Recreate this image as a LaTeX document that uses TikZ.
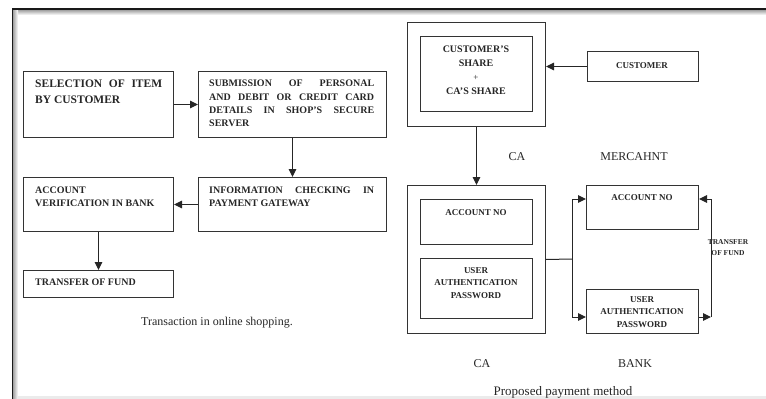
\documentclass[tikz,border=0pt]{standalone}
\usepackage{fontspec}
\setmainfont{Liberation Serif}
\usetikzlibrary{arrows.meta,calc}
\newcommand\jline[2]{\makebox[#1][s]{#2}}
\begin{document}
\begin{tikzpicture}[x=1pt,y=-1pt,
  box/.style={draw=black!80, line width=1pt, inner sep=0pt, anchor=north west},
  txt/.style={inner sep=0pt, align=left, anchor=north west, text=black!85},
  ctxt/.style={inner sep=0pt, align=center, text=black!85},
  arr/.style={draw=black!85, line width=1pt, -{Triangle[length=8pt,width=7.5pt]}},
  ln/.style={draw=black!85, line width=1pt},
  bf10/.style={font=\bfseries\fontsize{10}{13.3}\selectfont},
  bf9/.style={font=\bfseries\fontsize{9}{12.3}\selectfont},
  lab/.style={inner sep=0pt, anchor=base, text=black!85, font=\fontsize{12}{14}\selectfont}]
\useasboundingbox (0,0) rectangle (766,399);
% frame
\shade[top color=black!40, bottom color=white] (12,9.5) rectangle (766,15);
\shade[left color=black!40, right color=white] (12.5,9.5) rectangle (18,399);
\fill[black!8] (18,396) rectangle (766,399);
\draw[line width=1.6pt, black!90] (12.5,399) -- (12.5,9) -- (766,9);

% ---- left diagram ----
\node[box, minimum width=150pt, minimum height=66pt] (b1) at (23,71) {};
\node[box, minimum width=188pt, minimum height=66pt] (b2) at (198,71) {};
\node[box, minimum width=150pt, minimum height=54pt] (b3) at (23,177) {};
\node[box, minimum width=188pt, minimum height=54pt] (b4) at (198,177) {};
\node[box, minimum width=150pt, minimum height=27pt] (b5) at (23,270) {};

\node[txt, font=\bfseries\fontsize{11.5}{15.7}\selectfont] (t1) at (35,80)
  {\jline{127pt}{SELECTION OF ITEM}\\BY CUSTOMER};
\node[txt, bf10] (t2) at (209,80)
  {\jline{165pt}{SUBMISSION OF PERSONAL}\\\jline{165pt}{AND DEBIT OR CREDIT CARD}\\\jline{165pt}{DETAILS IN SHOP’S SECURE}\\SERVER};
\node[txt, font=\bfseries\fontsize{10}{12.7}\selectfont] (t3) at (35,187)
  {ACCOUNT\\VERIFICATION IN BANK};
\node[txt, font=\bfseries\fontsize{10}{12.7}\selectfont] (t4) at (209,187)
  {\jline{165pt}{INFORMATION CHECKING IN}\\PAYMENT GATEWAY};
\node[txt, bf10] (t5) at (35,279) {TRANSFER OF FUND};

\draw[arr] (b1) -- (b2);
\draw[arr] (b2) -- (b4);
\draw[arr] (b4) -- (b3);
\draw[arr] (b3) -- (b5);

\node[lab] (cap1) at (217,325) {Transaction in online shopping.};

% ---- right diagram ----
\node[box, minimum width=138pt, minimum height=104pt] (ob1) at (407,22) {};
\node[box, minimum width=112pt, minimum height=75pt] (ib1) at (420,36) {};
\node[ctxt, font=\bfseries\fontsize{10}{13.9}\selectfont] (it1) at (476,70.5)
  {CUSTOMER’S\\SHARE\\{\mdseries\fontsize{9}{13.9}\selectfont +}\\CA’S SHARE};
\node[box, minimum width=111pt, minimum height=30pt] (cust) at (587,51) {};
\node[ctxt, bf9] (custt) at (642,65.5) {CUSTOMER};

\node[box, minimum width=138pt, minimum height=148pt] (ob2) at (407,185) {};
\node[box, minimum width=112pt, minimum height=45pt] (ib2) at (420,199) {};
\node[box, minimum width=112pt, minimum height=60pt] (ib3) at (420,258) {};
\node[ctxt, bf9] (ib2t) at (476,212.5) {ACCOUNT NO};
\node[ctxt, bf9] (ib3t) at (476,283) {USER\\AUTHENTICATION\\PASSWORD};

\node[box, minimum width=112pt, minimum height=44pt] (mer) at (586,185) {};
\node[ctxt, bf9] (mert) at (642,198) {ACCOUNT NO};
\node[box, minimum width=112pt, minimum height=44pt] (bank) at (586,289) {};
\node[ctxt, bf9] (bankt) at (642,312) {USER\\AUTHENTICATION\\PASSWORD};

\node[ctxt, font=\bfseries\fontsize{7.5}{11.5}\selectfont] (tf) at (728,247.5) {TRANSFER\\OF FUND};

\node[lab] (ca1) at (517,160) {CA};
\node[lab] (merl) at (634,160) {MERCAHNT};
\node[lab] (ca2) at (482,367) {CA};
\node[lab] (bankl) at (635,367) {BANK};
\node[lab, font=\fontsize{13}{15}\selectfont] (cap2) at (563,395) {Proposed payment method};

\coordinate (j) at (572,259);
\coordinate (jt) at (572,199);
\coordinate (jb) at (572,317);
\coordinate (rt) at (711,199);
\coordinate (rb) at (711,317);

\draw[arr] (cust.west) -- (cust.west -| ob1.east);
\draw[arr] (ob1) -- (ob2);
\draw[ln] (ob2.east) -- (j);
\draw[arr] (j) -- (jt) -- (jt -| mer.west);
\draw[arr] (j) -- (jb) -- (jb -| bank.west);
\draw[arr] (bank.east |- rb) -- (rb);
\draw[arr] (rb) -- (rt) -- (rt -| mer.east);
\end{tikzpicture}
\end{document}
